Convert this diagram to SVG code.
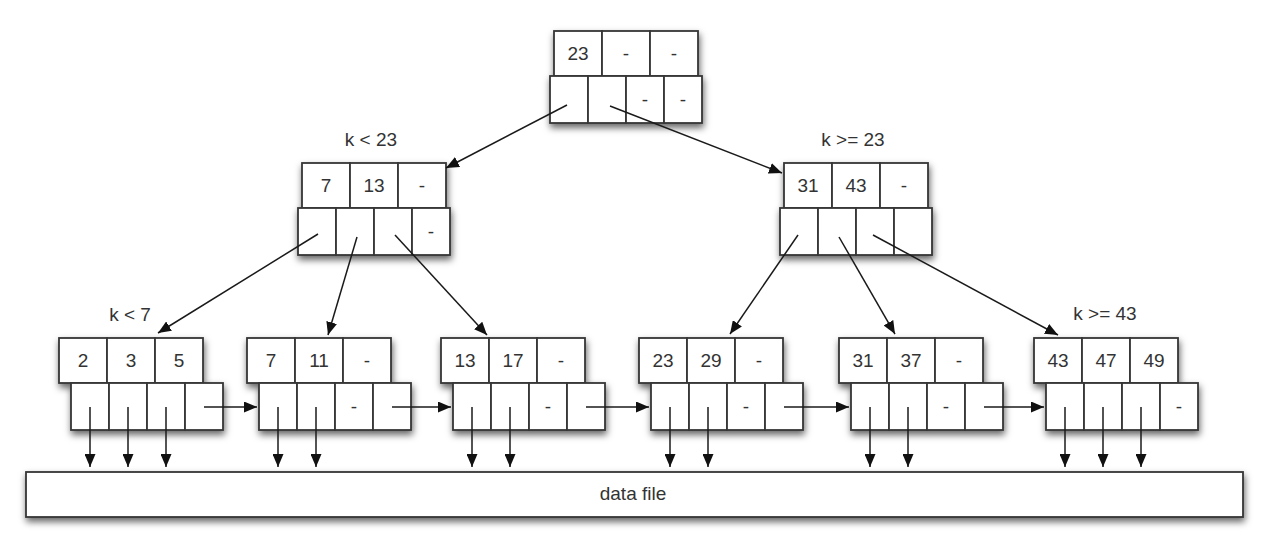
<svg xmlns="http://www.w3.org/2000/svg" width="1262" height="552" viewBox="0 0 1262 552">
  <style>
    .cell { fill: #ffffff; stroke: #363636; stroke-width: 1.8; }
    .t { font-family: "Liberation Sans", Arial, sans-serif; font-size: 19px; fill: #333333; text-anchor: middle; }
    .lbl { font-family: "Liberation Sans", Arial, sans-serif; font-size: 19px; fill: #333333; text-anchor: middle; }
    .conn line { stroke: #1a1a1a; stroke-width: 1.5; fill: none; marker-end: url(#ah); }
  </style>
  <defs>
    <filter id="sh" x="-10%" y="-20%" width="120%" height="160%">
      <feDropShadow dx="1" dy="4" stdDeviation="3.5" flood-color="#000000" flood-opacity="0.6"/>
    </filter>
    <marker id="ah" markerUnits="userSpaceOnUse" markerWidth="13" markerHeight="11" refX="13" refY="5.5" orient="auto">
      <path d="M0,0 L13,5.5 L0,11 z" fill="#111111"/>
    </marker>
  </defs>
  <rect width="1262" height="552" fill="#ffffff"/>

  <!-- labels -->
  <g id="labels">
    <text class="lbl" x="371" y="146">k &lt; 23</text>
    <text class="lbl" x="853" y="146">k &gt;= 23</text>
    <text class="lbl" x="130" y="321">k &lt; 7</text>
    <text class="lbl" x="1105" y="320">k &gt;= 43</text>
  </g>

  <!-- root -->
  <g id="root" transform="translate(554,31)">
    <g filter="url(#sh)">
      <rect class="cell" x="0" y="0" width="48" height="45"/>
      <rect class="cell" x="48" y="0" width="48" height="45"/>
      <rect class="cell" x="96" y="0" width="48" height="45"/>
      <rect class="cell" x="-4" y="45" width="38" height="47"/>
      <rect class="cell" x="34" y="45" width="38" height="47"/>
      <rect class="cell" x="72" y="45" width="38" height="47"/>
      <rect class="cell" x="110" y="45" width="38" height="47"/>
    </g>
    <text class="t" x="24" y="29">23</text>
    <text class="t" x="72" y="29">-</text>
    <text class="t" x="120" y="29">-</text>
    <text class="t" x="91" y="75">-</text>
    <text class="t" x="129" y="75">-</text>
  </g>

  <!-- level 2 left -->
  <g id="inner-left" transform="translate(302,163)">
    <g filter="url(#sh)">
      <rect class="cell" x="0" y="0" width="48" height="45"/>
      <rect class="cell" x="48" y="0" width="48" height="45"/>
      <rect class="cell" x="96" y="0" width="48" height="45"/>
      <rect class="cell" x="-4" y="45" width="38" height="47"/>
      <rect class="cell" x="34" y="45" width="38" height="47"/>
      <rect class="cell" x="72" y="45" width="38" height="47"/>
      <rect class="cell" x="110" y="45" width="38" height="47"/>
    </g>
    <text class="t" x="24" y="29">7</text>
    <text class="t" x="72" y="29">13</text>
    <text class="t" x="120" y="29">-</text>
    <text class="t" x="129" y="75">-</text>
  </g>

  <!-- level 2 right -->
  <g id="inner-right" transform="translate(784,163)">
    <g filter="url(#sh)">
      <rect class="cell" x="0" y="0" width="48" height="45"/>
      <rect class="cell" x="48" y="0" width="48" height="45"/>
      <rect class="cell" x="96" y="0" width="48" height="45"/>
      <rect class="cell" x="-4" y="45" width="38" height="47"/>
      <rect class="cell" x="34" y="45" width="38" height="47"/>
      <rect class="cell" x="72" y="45" width="38" height="47"/>
      <rect class="cell" x="110" y="45" width="38" height="47"/>
    </g>
    <text class="t" x="24" y="29">31</text>
    <text class="t" x="72" y="29">43</text>
    <text class="t" x="120" y="29">-</text>
  </g>

  <!-- leaves -->
  <g id="leaf1" transform="translate(59,338)">
    <g filter="url(#sh)">
      <rect class="cell" x="0" y="0" width="48" height="45"/>
      <rect class="cell" x="48" y="0" width="48" height="45"/>
      <rect class="cell" x="96" y="0" width="48" height="45"/>
      <rect class="cell" x="12" y="45" width="38" height="47"/>
      <rect class="cell" x="50" y="45" width="38" height="47"/>
      <rect class="cell" x="88" y="45" width="38" height="47"/>
      <rect class="cell" x="126" y="45" width="38" height="47"/>
    </g>
    <text class="t" x="24" y="29">2</text>
    <text class="t" x="72" y="29">3</text>
    <text class="t" x="120" y="29">5</text>
  </g>

  <g id="leaf2" transform="translate(247,338)">
    <g filter="url(#sh)">
      <rect class="cell" x="0" y="0" width="48" height="45"/>
      <rect class="cell" x="48" y="0" width="48" height="45"/>
      <rect class="cell" x="96" y="0" width="48" height="45"/>
      <rect class="cell" x="12" y="45" width="38" height="47"/>
      <rect class="cell" x="50" y="45" width="38" height="47"/>
      <rect class="cell" x="88" y="45" width="38" height="47"/>
      <rect class="cell" x="126" y="45" width="38" height="47"/>
    </g>
    <text class="t" x="24" y="29">7</text>
    <text class="t" x="72" y="29">11</text>
    <text class="t" x="120" y="29">-</text>
    <text class="t" x="107" y="75">-</text>
  </g>

  <g id="leaf3" transform="translate(441,338)">
    <g filter="url(#sh)">
      <rect class="cell" x="0" y="0" width="48" height="45"/>
      <rect class="cell" x="48" y="0" width="48" height="45"/>
      <rect class="cell" x="96" y="0" width="48" height="45"/>
      <rect class="cell" x="12" y="45" width="38" height="47"/>
      <rect class="cell" x="50" y="45" width="38" height="47"/>
      <rect class="cell" x="88" y="45" width="38" height="47"/>
      <rect class="cell" x="126" y="45" width="38" height="47"/>
    </g>
    <text class="t" x="24" y="29">13</text>
    <text class="t" x="72" y="29">17</text>
    <text class="t" x="120" y="29">-</text>
    <text class="t" x="107" y="75">-</text>
  </g>

  <g id="leaf4" transform="translate(639,338)">
    <g filter="url(#sh)">
      <rect class="cell" x="0" y="0" width="48" height="45"/>
      <rect class="cell" x="48" y="0" width="48" height="45"/>
      <rect class="cell" x="96" y="0" width="48" height="45"/>
      <rect class="cell" x="12" y="45" width="38" height="47"/>
      <rect class="cell" x="50" y="45" width="38" height="47"/>
      <rect class="cell" x="88" y="45" width="38" height="47"/>
      <rect class="cell" x="126" y="45" width="38" height="47"/>
    </g>
    <text class="t" x="24" y="29">23</text>
    <text class="t" x="72" y="29">29</text>
    <text class="t" x="120" y="29">-</text>
    <text class="t" x="107" y="75">-</text>
  </g>

  <g id="leaf5" transform="translate(839,338)">
    <g filter="url(#sh)">
      <rect class="cell" x="0" y="0" width="48" height="45"/>
      <rect class="cell" x="48" y="0" width="48" height="45"/>
      <rect class="cell" x="96" y="0" width="48" height="45"/>
      <rect class="cell" x="12" y="45" width="38" height="47"/>
      <rect class="cell" x="50" y="45" width="38" height="47"/>
      <rect class="cell" x="88" y="45" width="38" height="47"/>
      <rect class="cell" x="126" y="45" width="38" height="47"/>
    </g>
    <text class="t" x="24" y="29">31</text>
    <text class="t" x="72" y="29">37</text>
    <text class="t" x="120" y="29">-</text>
    <text class="t" x="107" y="75">-</text>
  </g>

  <g id="leaf6" transform="translate(1034,338)">
    <g filter="url(#sh)">
      <rect class="cell" x="0" y="0" width="48" height="45"/>
      <rect class="cell" x="48" y="0" width="48" height="45"/>
      <rect class="cell" x="96" y="0" width="48" height="45"/>
      <rect class="cell" x="12" y="45" width="38" height="47"/>
      <rect class="cell" x="50" y="45" width="38" height="47"/>
      <rect class="cell" x="88" y="45" width="38" height="47"/>
      <rect class="cell" x="126" y="45" width="38" height="47"/>
    </g>
    <text class="t" x="24" y="29">43</text>
    <text class="t" x="72" y="29">47</text>
    <text class="t" x="120" y="29">49</text>
    <text class="t" x="145" y="75">-</text>
  </g>

  <!-- data file -->
  <g id="datafile">
    <rect class="cell" x="26" y="472" width="1217" height="45" filter="url(#sh)"/>
    <text class="t" x="633" y="500">data file</text>
  </g>

  <!-- connectors -->
  <g id="connectors" class="conn">
    <line x1="567" y1="105" x2="446" y2="168"/>
    <line x1="610" y1="106" x2="782" y2="173"/>
    <line x1="318" y1="234" x2="158" y2="333"/>
    <line x1="357" y1="237" x2="328" y2="335"/>
    <line x1="395" y1="235" x2="487" y2="335"/>
    <line x1="798" y1="235" x2="730" y2="334"/>
    <line x1="839" y1="237" x2="895" y2="334"/>
    <line x1="873" y1="235" x2="1058" y2="335"/>
    <!-- leaf links -->
    <line x1="204" y1="407" x2="257" y2="407"/>
    <line x1="392" y1="407" x2="451" y2="407"/>
    <line x1="586" y1="407" x2="649" y2="407"/>
    <line x1="784" y1="407" x2="849" y2="407"/>
    <line x1="984" y1="407" x2="1044" y2="407"/>
    <!-- data pointers -->
    <line x1="90" y1="407" x2="90" y2="467"/>
    <line x1="128" y1="407" x2="128" y2="467"/>
    <line x1="166" y1="407" x2="166" y2="467"/>
    <line x1="278" y1="407" x2="278" y2="467"/>
    <line x1="316" y1="407" x2="316" y2="467"/>
    <line x1="472" y1="407" x2="472" y2="467"/>
    <line x1="510" y1="407" x2="510" y2="467"/>
    <line x1="670" y1="407" x2="670" y2="467"/>
    <line x1="708" y1="407" x2="708" y2="467"/>
    <line x1="870" y1="407" x2="870" y2="467"/>
    <line x1="908" y1="407" x2="908" y2="467"/>
    <line x1="1065" y1="407" x2="1065" y2="467"/>
    <line x1="1103" y1="407" x2="1103" y2="467"/>
    <line x1="1141" y1="407" x2="1141" y2="467"/>
  </g>
</svg>
